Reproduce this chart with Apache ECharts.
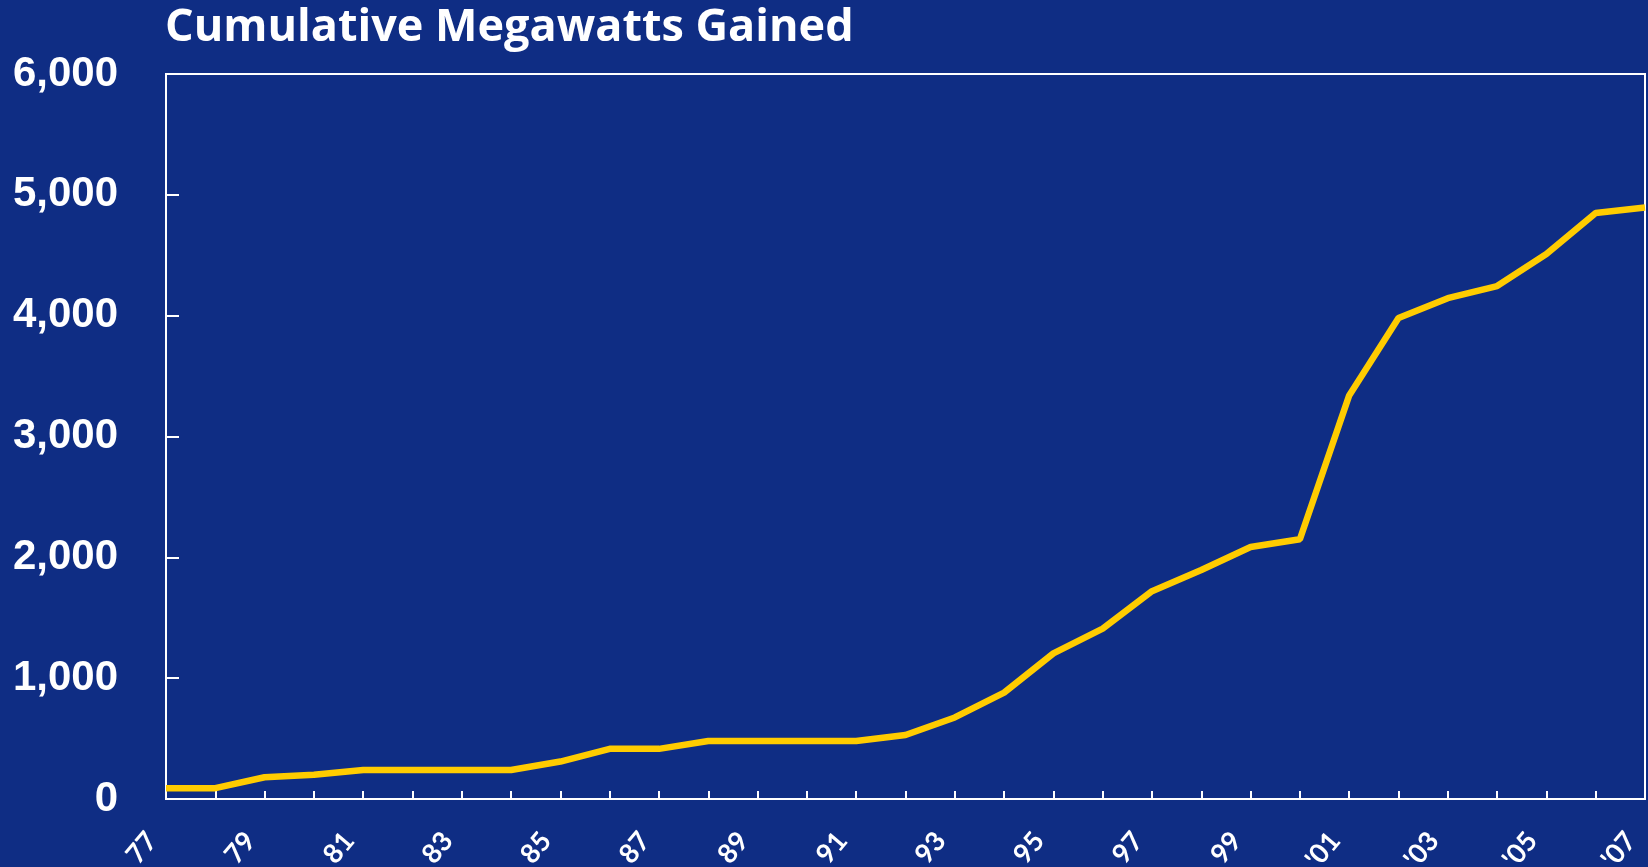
<!DOCTYPE html>
<html>
<head>
<meta charset="utf-8">
<script src="https://cdn.jsdelivr.net/npm/echarts@6/dist/echarts.min.js"></script>
<style>
html,body{margin:0;padding:0;background:#0f2d84;}
#chart{width:1648px;height:867px;}
</style>
</head>
<body>
<div id="chart"></div>
<script>
const titleText = 'Cumulative Megawatts Gained';
const years = ['77','78','79','80','81','82','83','84','85','86','87','88','89','90','91','92','93','94','95','96','97','98','99',"'00","'01","'02","'03","'04","'05","'06","'07"];
const megawatts = [90,90,180,200,240,240,240,240,310,415,415,480,480,480,480,530,675,880,1205,1410,1720,1895,2085,2150,3340,3980,4145,4245,4510,4850,4895];
const yTicks = [0,1000,2000,3000,4000,5000,6000];

const chart = echarts.init(document.getElementById('chart'), null, {renderer:'canvas'});
chart.setOption({
  backgroundColor: '#0f2d84',
  animation: false,
  title: {
    text: titleText,
    left: 160,
    top: 1,
    textStyle: {color:'#ffffff', fontFamily:'Open Sans', fontWeight:'bold', fontSize:45}
  },
  grid: {
    left: 166, right: 3, top: 74, bottom: 68,
    outerBoundsMode: 'none',
    containLabel: false,
    show: true, borderColor: '#ffffff', borderWidth: 2, backgroundColor: 'transparent'
  },
  xAxis: {
    type: 'category',
    data: years,
    boundaryGap: false,
    axisLine: {show:true, lineStyle:{color:'#ffffff', width:2}},
    axisTick: {show:true, inside:true, length:8, interval:0, lineStyle:{color:'#ffffff', width:2}},
    axisLabel: {
      interval: 1, rotate: 50, margin: 20,
      color:'#ffffff', fontFamily:'Lato', fontWeight:'bold', fontSize:27,
      padding:[0,22,0,0]
    },
    splitLine: {show:false}
  },
  yAxis: {
    type: 'value',
    min: yTicks[0], max: yTicks[yTicks.length-1], interval: 1000,
    axisLine: {show:true, lineStyle:{color:'#ffffff', width:2}},
    axisTick: {show:true, inside:true, length:13, lineStyle:{color:'#ffffff', width:2}},
    axisLabel: {
      margin: 48, color:'#ffffff', fontFamily:'Liberation Sans', fontWeight:'bold', fontSize:42,
      formatter: v => v.toLocaleString('en-US')
    },
    splitLine: {show:false}
  },
  series: [{
    type: 'line',
    data: megawatts,
    symbol: 'none',
    lineStyle: {color:'#ffcc00', width:6.5},
    itemStyle: {color:'#ffcc00'}
  }]
});
</script>
</body>
</html>
